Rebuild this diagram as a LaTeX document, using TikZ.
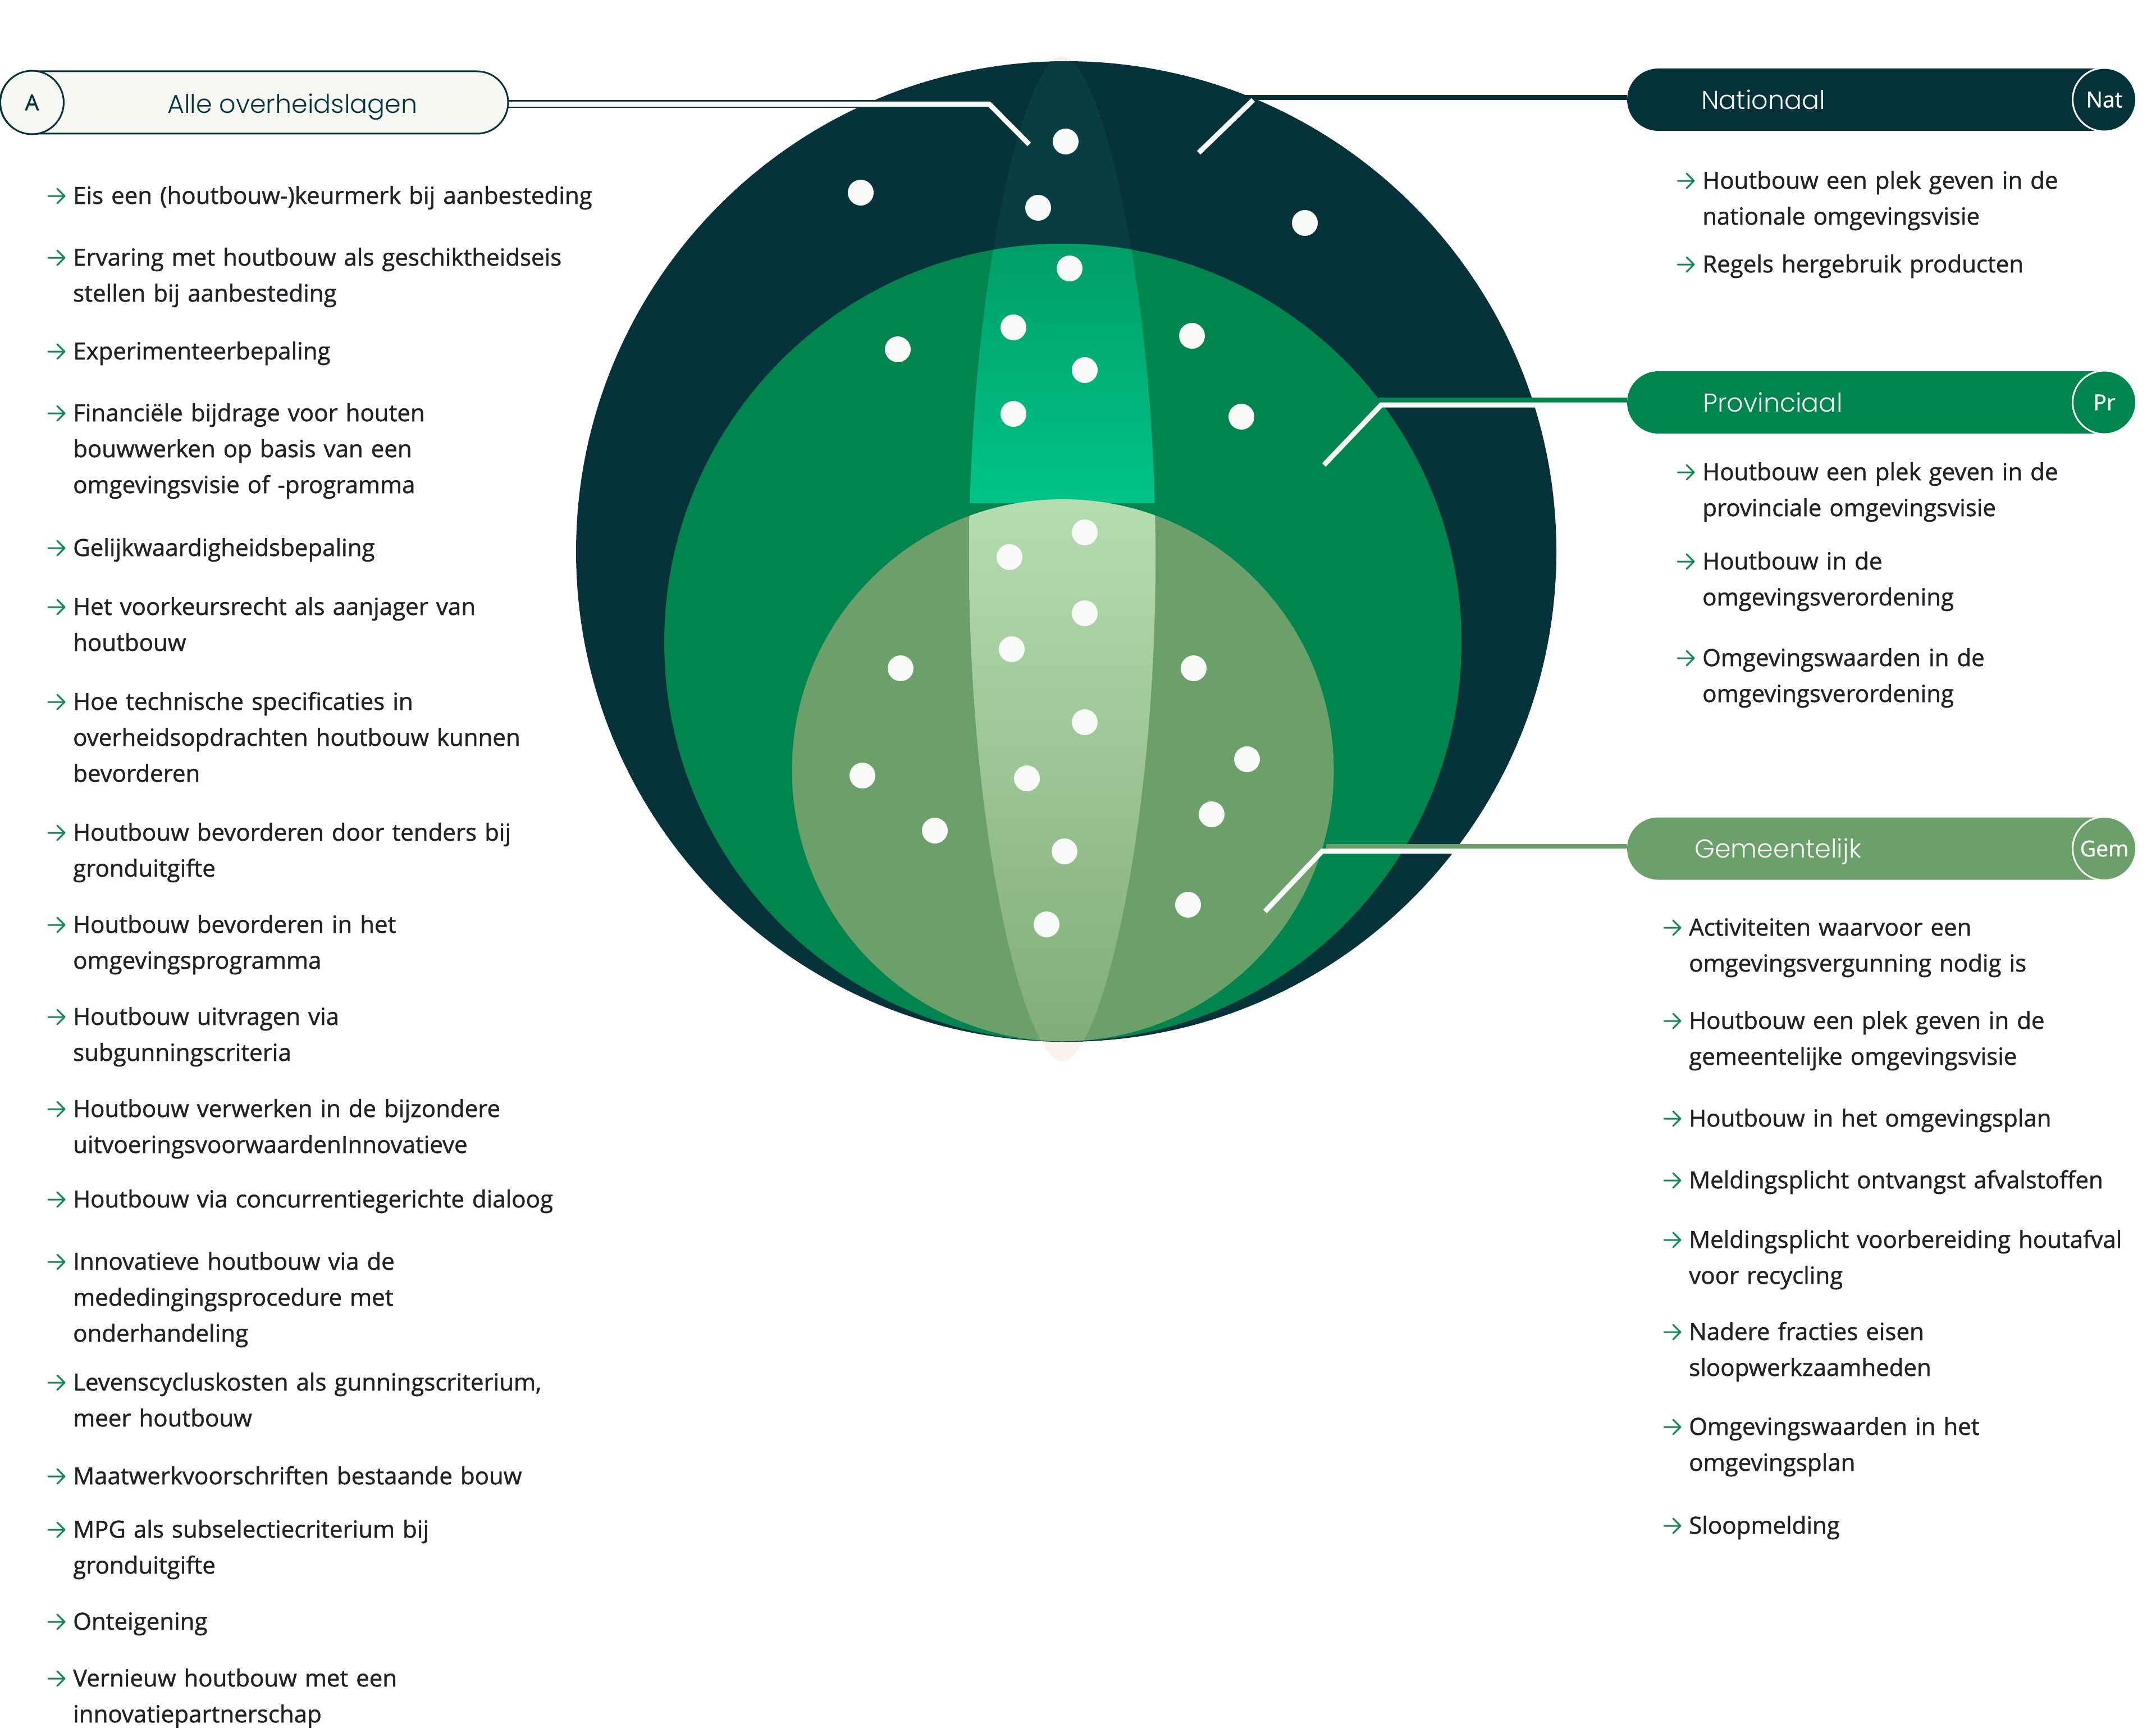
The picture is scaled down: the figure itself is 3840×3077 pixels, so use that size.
\documentclass[tikz,border=0pt]{standalone}
\usepackage{fontspec}
\setmainfont{Open Sans}[FakeBold=1.2]
\IfFontExistsTF{Poppins Light}{\newfontfamily\ttlfont{Poppins Light}}{\newfontfamily\ttlfont{Poppins}}
\definecolor{cdark}{HTML}{063339}
\definecolor{clensd}{HTML}{083E42}
\definecolor{cprov}{HTML}{00854F}
\definecolor{cgem}{HTML}{6CA06A}
\definecolor{cwhite}{HTML}{F7FAF6}
\definecolor{cpl}{HTML}{F4F7F2}
\definecolor{ctext}{HTML}{1F2326}
\definecolor{carrow}{HTML}{0F8A55}
\definecolor{cpink}{HTML}{FBF0ED}
\definecolor{cmidtop}{HTML}{009E66}
\definecolor{cmidbot}{HTML}{00C488}
\definecolor{cintop}{HTML}{B6DDB1}
\definecolor{cinmid}{HTML}{91BE88}
\definecolor{cinbot}{HTML}{80AD77}
\tikzset{
  body/.style={anchor=base west, inner sep=0pt, align=left, font=\fontsize{42}{64}\selectfont, text=ctext},
  bul/.style={draw=carrow, line width=3pt, line cap=round, line join=round},
  pillbox/.style={minimum width=907pt, minimum height=111pt, rounded corners=55.5pt, inner sep=0pt},
  tagc/.style={circle, minimum size=113pt, inner sep=0pt, line width=3pt, font=\fontsize{39}{44}\selectfont},
  ttl/.style={anchor=base west, inner sep=0pt, font=\ttlfont\fontsize{46}{50}\selectfont},
  wl/.style={draw=cwhite, line width=9pt},
  dot/.style={fill=cwhite}
}
\newcommand\itm[5][800]{%
  \node[body, text width=#1pt] (#2) at (#3,#4) {#5};
  \draw[bul] ([shift={(-44,-14)}]#2.base west) -- ++(29,0) ++(-13,-13) -- ++(13,13) -- ++(-13,13);}
\def\lenspath{(1892,100) .. controls (1958.4,100) and (2058,503) .. (2058,995) .. controls (2058,1487) and (1958.4,1890) .. (1892,1890) .. controls (1825.6,1890) and (1726,1487) .. (1726,995) .. controls (1726,503) and (1825.6,100) .. (1892,100) -- cycle}
\begin{document}
\begin{tikzpicture}[x=1pt,y=-1pt]
\useasboundingbox[fill=white] (0,0) rectangle (3840,3077);
% central graphic
\fill[cpink] \lenspath;
\fill[cdark] (1899,982) circle[radius=873];
\begin{scope}
  \clip \lenspath;
  \fill[clensd] (1899,982) circle[radius=873];
\end{scope}
\fill[cprov] (1893,1144) circle[radius=710];
\begin{scope}
  \clip \lenspath;
  \clip (1893,1144) circle[radius=710];
  \shade[top color=cmidtop, bottom color=cmidbot] (1700,430) rectangle (2080,895);
\end{scope}
\fill[cgem] (1893,1371.5) circle[radius=482.5];
\begin{scope}
  \clip \lenspath;
  \clip (1893,1371.5) circle[radius=482.5];
  \shade[top color=cintop, middle color=cinmid, bottom color=cinbot] (1700,885) rectangle (2080,1860);
\end{scope}
% dots
\foreach \px/\py in {1898/252,1533/343,1849/370,2324/397,1905/478,1805/583,1599/622,2123/598,1932/659,1805/737,2211/742,1932/948,1798/992,1932/1092,1802/1156,1604/1190,2126/1190,1932/1286,2221/1352,1536/1381,1829/1386,2158/1450,1665/1479,1896/1516,2116/1611,1864/1646}
  \fill[dot] (\px,\py) circle[radius=23];
% anchor points
\coordinate (allk) at (1762,185.5);
\coordinate (alle) at (1833,257);
\coordinate (natk1) at (2215,173.5);
\coordinate (natk2) at (2232,178);
\coordinate (nate) at (2135,272);
\coordinate (prk1) at (2455,712.5);
\coordinate (prk2) at (2460,721);
\coordinate (pre) at (2358,828);
\coordinate (gmk1) at (2362,1507);
\coordinate (gmk2) at (2355,1515.5);
\coordinate (gme) at (2253,1623);
\coordinate (allpos) at (452.5,182.5);
\coordinate (natpos) at (3351.5,177.5);
\coordinate (prpos) at (3351.5,716.5);
\coordinate (gmpos) at (3351.5,1511);
% connectors
\draw[cdark, line width=14pt] ([yshift=-3pt]allpos -| 905,0) -- (allk);
\draw[wl] ([yshift=-3pt]allpos -| 905,0) -- (allk) -- (alle);
\draw[cdark, line width=8.5pt] ([yshift=4pt]natpos -| 2898,0) -- (natk1);
\draw[wl] (natk2) -- (nate);
\draw[cprov, line width=8.5pt] ([yshift=4pt]prpos -| 2898,0) -- (prk1);
\draw[wl] ([yshift=-4.5pt]prpos -| 2898,0) -- (prk2) -- (pre);
\draw[cgem, line width=8.5pt] ([yshift=4pt]gmpos -| 2898,0) -- (gmk1);
\draw[wl] ([yshift=-4.5pt]gmpos -| 2898,0) -- (gmk2) -- (gme);
% pills
\node[pillbox, minimum width=905pt, fill=cpl, draw=cdark, line width=3pt] (allpill) at (allpos) {};
\node[tagc, fill=cpl, draw=cdark, text=cdark] (allc) at (57,182.5) {A};
\node[ttl, text=cdark] (allt) at (298,202) {Alle overheidslagen};
\node[pillbox, fill=cdark] (natpill) at (natpos) {};
\node[tagc, fill=cdark, draw=cwhite, text=cwhite] (natc) at (3748,177.5) {Nat};
\node[ttl, text=cwhite] (natt) at (3030,195) {Nationaal};
\node[pillbox, fill=cprov] (prpill) at (prpos) {};
\node[tagc, fill=cprov, draw=cwhite, text=cwhite] (prc) at (3748,716.5) {Pr};
\node[ttl, text=cwhite] (prt) at (3033,733) {Provinciaal};
\node[pillbox, fill=cgem] (gmpill) at (gmpos) {};
\node[tagc, fill=cgem, draw=cwhite, text=cwhite] (gmc) at (3748,1511) {Gem};
\node[ttl, text=cwhite] (gmt) at (3018,1527) {Gemeentelijk};
% left items
\itm[960]{l1}{130}{363}{Eis een (houtbouw-)keurmerk bij aanbesteding}
\itm[960]{l2}{130}{473}{Ervaring met houtbouw als geschiktheidseis\\stellen bij aanbesteding}
\itm[960]{l3}{130}{640}{Experimenteerbepaling}
\itm[960]{l4}{130}{750}{Financiële bijdrage voor houten\\bouwwerken op basis van een\\omgevingsvisie of -programma}
\itm[960]{l5}{130}{990}{Gelijkwaardigheidsbepaling}
\itm[960]{l6}{130}{1095}{Het voorkeursrecht als aanjager van\\houtbouw}
\itm[960]{l7}{130}{1264}{Hoe technische specificaties in\\overheidsopdrachten houtbouw kunnen\\bevorderen}
\itm[960]{l8}{130}{1497}{Houtbouw bevorderen door tenders bij\\gronduitgifte}
\itm[960]{l9}{130}{1661}{Houtbouw bevorderen in het\\omgevingsprogramma}
\itm[960]{l10}{130}{1825}{Houtbouw uitvragen via\\subgunningscriteria}
\itm[960]{l11}{130}{1989}{Houtbouw verwerken in de bijzondere\\uitvoeringsvoorwaardenInnovatieve}
\itm[960]{l12}{130}{2150}{Houtbouw via concurrentiegerichte dialoog}
\itm[960]{l13}{130}{2261}{Innovatieve houtbouw via de\\mededingingsprocedure met\\onderhandeling}
\itm[960]{l14}{130}{2476}{Levenscycluskosten als gunningscriterium,\\meer houtbouw}
\itm[960]{l15}{130}{2643}{Maatwerkvoorschriften bestaande bouw}
\itm[960]{l16}{130}{2738}{MPG als subselectiecriterium bij\\gronduitgifte}
\itm[960]{l17}{130}{2902}{Onteigening}
\itm[960]{l18}{130}{3003}{Vernieuw houtbouw met een\\innovatiepartnerschap}
% right items
\itm{n1}{3032}{336}{Houtbouw een plek geven in de\\nationale omgevingsvisie}
\itm{n2}{3032}{485}{Regels hergebruik producten}
\itm{p1}{3032}{855}{Houtbouw een plek geven in de\\provinciale omgevingsvisie}
\itm{p2}{3032}{1014}{Houtbouw in de\\omgevingsverordening}
\itm{p3}{3032}{1186}{Omgevingswaarden in de\\omgevingsverordening}
\itm{g1}{3008}{1666}{Activiteiten waarvoor een\\omgevingsvergunning nodig is}
\itm{g2}{3008}{1832}{Houtbouw een plek geven in de\\gemeentelijke omgevingsvisie}
\itm{g3}{3008}{2006}{Houtbouw in het omgevingsplan}
\itm{g4}{3008}{2116}{Meldingsplicht ontvangst afvalstoffen}
\itm{g5}{3008}{2222}{Meldingsplicht voorbereiding houtafval\\voor recycling}
\itm{g6}{3008}{2386}{Nadere fracties eisen\\sloopwerkzaamheden}
\itm{g7}{3008}{2555}{Omgevingswaarden in het\\omgevingsplan}
\itm{g8}{3008}{2731}{Sloopmelding}
\end{tikzpicture}
\end{document}
